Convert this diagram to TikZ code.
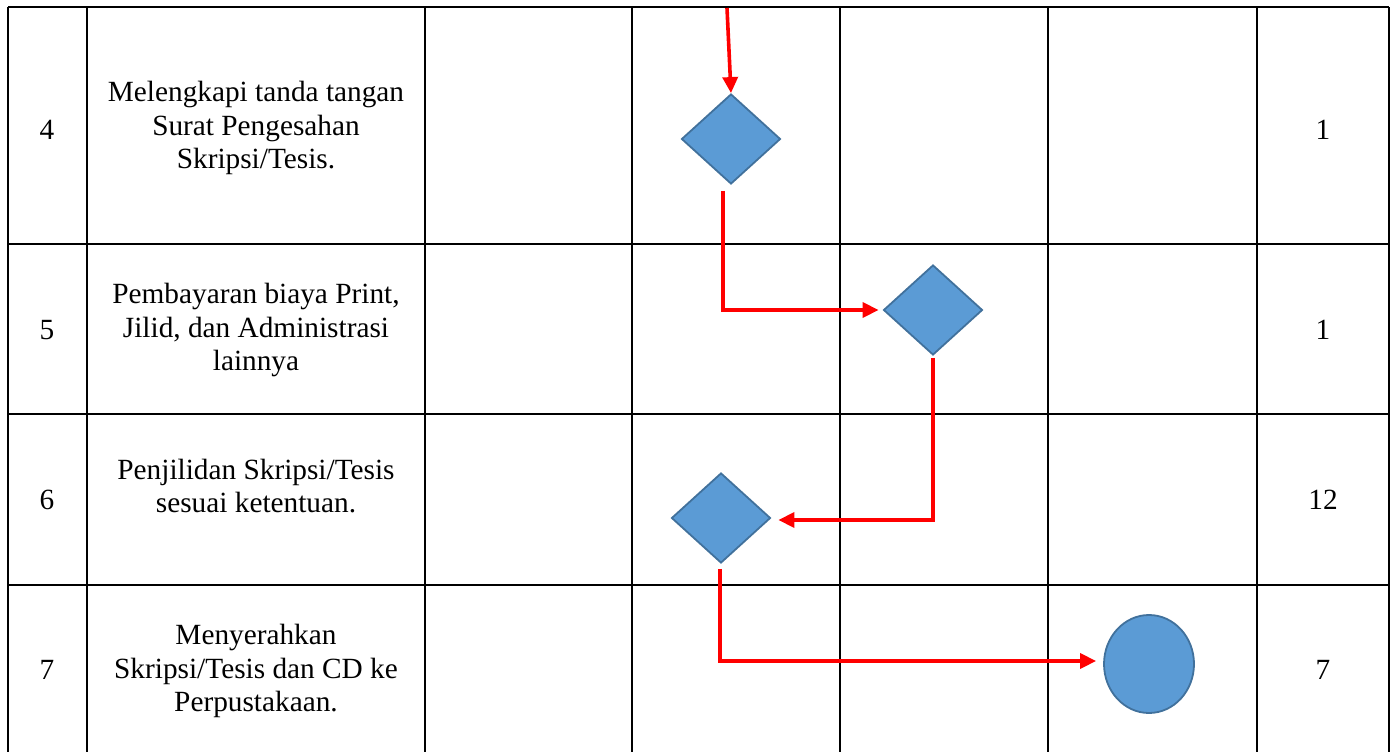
\documentclass[tikz,border=0pt]{standalone}
\usepackage{fontspec}
\setmainfont{Liberation Serif}
\usetikzlibrary{shapes.geometric,arrows.meta}

\begin{document}
\begin{tikzpicture}[
        x=1pt, y=-1pt, % one unit per pixel, y running down
        line join=miter,
        grid/.style={black, line width=2.8pt},
        flow/.style={red, line width=3.6pt, -{Triangle[length=16pt,width=15pt]}},
        decision/.style={diamond, aspect=1.1, minimum width=99pt, minimum height=90pt,
            inner sep=0pt, fill=myfill, draw=myedge, line width=1.8pt},
        finish/.style={ellipse, minimum width=90pt, minimum height=98pt,
            inner sep=0pt, fill=myfill, draw=myedge, line width=1.8pt},
        cell/.style={align=center, font=\fontsize{29.3}{33.5}\selectfont}
        ]

        % 1. Define colors to match the image
        \definecolor{myfill}{HTML}{5B9BD5}
        \definecolor{myedge}{HTML}{41719C}

        \useasboundingbox (0,0) rectangle (1395,752);

        % 2. Table grid
        \foreach \gx in {8,87,425,632,840,1048,1257,1389}
            \draw[grid] (\gx,7) -- (\gx,752);
        \foreach \gy in {7,244,414,585}
            \draw[grid] (8,\gy) -- (1389,\gy);

        % 3. Row numbers, activities and times
        \node[cell] (no4) at (47,130) {4};
        \node[cell] (no5) at (47,330) {5};
        \node[cell] (no6) at (47,500) {6};
        \node[cell] (no7) at (47,670) {7};

        \node[cell] (act4) at (256,128) {Melengkapi tanda tangan\\Surat Pengesahan\\Skripsi/Tesis.};
        \node[cell] (act5) at (256,330) {Pembayaran biaya Print,\\Jilid, dan Administrasi\\lainnya};
        \node[cell] (act6) at (256,486) {Penjilidan Skripsi/Tesis\\sesuai ketentuan.};
        \node[cell] (act7) at (256,671) {Menyerahkan\\Skripsi/Tesis dan CD ke\\Perpustakaan.};

        \node[cell] (time4) at (1323,130) {1};
        \node[cell] (time5) at (1323,330) {1};
        \node[cell] (time6) at (1323,500) {12};
        \node[cell] (time7) at (1323,670) {7};

        % 4. Flow shapes
        \node[decision] (tandatangan) at (731,139) {};
        \node[decision] (bayar) at (933,310) {};
        \node[decision] (jilid) at (721,518) {};
        \node[finish] (serah) at (1149,664) {};

        % 5. Connectors (red)
        \coordinate (masuk) at (727,8);
        \draw[flow] (masuk) -- (tandatangan.north);
        \draw[flow] ([xshift=-8pt,yshift=-6pt]tandatangan.south) |- ([xshift=-4pt]bayar.west);
        \draw[flow] ([yshift=-2pt]bayar.south) |- ([xshift=7pt,yshift=-2pt]jilid.east);
        \draw[flow] ([xshift=-1pt,yshift=-5pt]jilid.south) |- ([xshift=-7pt,yshift=3pt]serah.west);
    \end{tikzpicture}
\end{document}
